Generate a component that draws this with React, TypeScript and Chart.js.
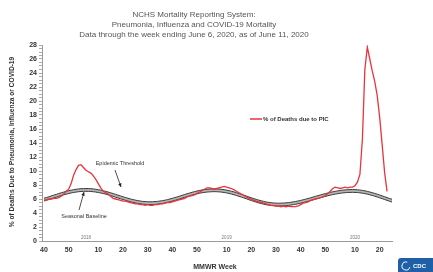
import React, { useEffect, useRef } from 'react';
import { Chart, registerables } from 'chart.js';

Chart.register(...registerables);

const titleLines = [
  'NCHS Mortality Reporting System:',
  'Pneumonia, Influenza and COVID-19 Mortality',
  'Data through the week ending June 6, 2020, as of June 11, 2020',
];
const yAxisTitle = '% of Deaths Due to Pneumonia, Influenza or COVID-19';
const xAxisTitle = 'MMWR Week';
const legendLabel = '% of Deaths due to PIC';

// MMWR weeks from 2017 week 40 (index 0) to 2020 week 25 (index 141)
const xTickIdx = [0, 10, 22, 32, 42, 52, 62, 74, 84, 94, 104, 114, 126, 136];
const xTickLabels = ['40', '50', '10', '20', '30', '40', '50', '10', '20', '30', '40', '50', '10', '20'];
const yearIdx = [17, 74, 126];
const yearLabels = ['2018', '2019', '2020'];

// % of deaths due to P&I / PIC, 2017 w40 .. 2020 w23
const pic = [
  5.8, 5.9, 6.0, 6.0, 6.1, 6.1, 6.2, 6.4, 6.7, 7.1,
  7.4, 8.2, 9.4, 10.2, 10.8, 10.9, 10.5, 10.1, 9.9, 9.7,
  9.3, 8.8, 8.2, 7.6, 7.1, 6.9, 6.7, 6.4, 6.1, 6.0,
  5.9, 5.8, 5.7, 5.7, 5.6, 5.5, 5.4, 5.3, 5.3, 5.2,
  5.2, 5.1, 5.2, 5.1, 5.1, 5.2, 5.2, 5.3, 5.3, 5.4,
  5.5, 5.5, 5.6, 5.7, 5.8, 5.9, 6.0, 6.1, 6.3, 6.4,
  6.5, 6.6, 6.8, 7.0, 7.2, 7.4, 7.6, 7.6, 7.5, 7.4,
  7.5, 7.6, 7.7, 7.8, 7.7, 7.6, 7.5, 7.3, 7.1, 6.9,
  6.7, 6.5, 6.3, 6.1, 6.0, 5.8, 5.7, 5.6, 5.5, 5.4,
  5.3, 5.2, 5.1, 5.1, 5.0, 5.0, 4.9, 5.0, 4.9, 5.0,
  4.9, 4.9, 4.9, 5.0, 5.2, 5.4, 5.5, 5.6, 5.8, 5.9,
  6.0, 6.1, 6.2, 6.3, 6.5, 6.8, 7.1, 7.5, 7.7, 7.6,
  7.5, 7.6, 7.7, 7.6, 7.7, 7.7, 7.9, 8.4, 9.5, 14.5,
  24.5, 27.7, 26.0, 24.3, 22.8, 20.8, 17.7, 13.8, 9.8, 7.1,
];

const baseline = [
  5.71, 5.81, 5.92, 6.04, 6.15, 6.26, 6.38, 6.49, 6.59, 6.69, 6.78, 6.86, 6.93, 6.99, 7.04, 7.07, 7.09, 7.10,
  7.09, 7.07, 7.04, 6.99, 6.93, 6.86, 6.78, 6.69, 6.59, 6.49, 6.38, 6.26, 6.15, 6.04, 5.92, 5.81, 5.71, 5.61,
  5.52, 5.44, 5.37, 5.31, 5.26, 5.23, 5.21, 5.20,
  5.21, 5.23, 5.26, 5.31, 5.36, 5.43, 5.51, 5.60, 5.70, 5.80, 5.90, 6.01, 6.13, 6.24, 6.35, 6.45, 6.56, 6.65,
  6.74, 6.82, 6.89, 6.94, 6.99, 7.02, 7.04, 7.05,
  7.04, 7.02, 6.98, 6.93, 6.87, 6.79, 6.70, 6.61, 6.50, 6.39, 6.27, 6.15, 6.03, 5.90, 5.78, 5.66, 5.55, 5.44,
  5.35, 5.26, 5.18, 5.12, 5.07, 5.03, 5.01, 5.00,
  5.01, 5.02, 5.05, 5.08, 5.13, 5.19, 5.25, 5.32, 5.40, 5.49, 5.58, 5.67, 5.77, 5.87, 5.98, 6.08, 6.18, 6.28,
  6.37, 6.46, 6.55, 6.63, 6.70, 6.76, 6.82, 6.87, 6.90, 6.93, 6.94, 6.95,
  6.94, 6.92, 6.88, 6.83, 6.77, 6.69, 6.60, 6.51, 6.40, 6.29, 6.17, 6.05, 5.93, 5.80, 5.68, 5.56,
];

const threshold = [
  6.11, 6.21, 6.32, 6.44, 6.55, 6.66, 6.78, 6.89, 6.99, 7.09, 7.18, 7.26, 7.33, 7.39, 7.44, 7.47, 7.49, 7.50,
  7.49, 7.47, 7.44, 7.39, 7.33, 7.26, 7.18, 7.09, 6.99, 6.89, 6.78, 6.66, 6.55, 6.44, 6.32, 6.21, 6.11, 6.01,
  5.92, 5.84, 5.77, 5.71, 5.66, 5.63, 5.61, 5.60,
  5.61, 5.63, 5.66, 5.71, 5.76, 5.83, 5.91, 6.00, 6.10, 6.20, 6.30, 6.41, 6.53, 6.64, 6.75, 6.85, 6.96, 7.05,
  7.14, 7.22, 7.29, 7.34, 7.39, 7.42, 7.44, 7.45,
  7.44, 7.42, 7.38, 7.33, 7.27, 7.19, 7.10, 7.01, 6.90, 6.79, 6.67, 6.55, 6.43, 6.30, 6.18, 6.06, 5.95, 5.84,
  5.75, 5.66, 5.58, 5.52, 5.47, 5.43, 5.41, 5.40,
  5.41, 5.42, 5.45, 5.48, 5.53, 5.59, 5.65, 5.72, 5.80, 5.89, 5.98, 6.07, 6.17, 6.27, 6.38, 6.48, 6.58, 6.68,
  6.77, 6.86, 6.95, 7.03, 7.10, 7.16, 7.22, 7.27, 7.30, 7.33, 7.34, 7.35,
  7.34, 7.32, 7.28, 7.23, 7.17, 7.09, 7.00, 6.91, 6.80, 6.69, 6.57, 6.45, 6.33, 6.20, 6.08, 5.96,
];

const FONT = '"Liberation Sans", Arial, sans-serif';

function arrow(ctx: CanvasRenderingContext2D, x1: number, y1: number, x2: number, y2: number) {
  ctx.beginPath();
  ctx.moveTo(x1, y1);
  ctx.lineTo(x2, y2);
  ctx.stroke();
  const a = Math.atan2(y2 - y1, x2 - x1);
  const l = 4;
  ctx.beginPath();
  ctx.moveTo(x2, y2);
  ctx.lineTo(x2 - l * Math.cos(a - 0.45), y2 - l * Math.sin(a - 0.45));
  ctx.lineTo(x2 - l * Math.cos(a + 0.45), y2 - l * Math.sin(a + 0.45));
  ctx.closePath();
  ctx.fill();
}

const textPlugin = {
  id: 'textPlugin',
  afterDraw(chart: any) {
    const ctx: CanvasRenderingContext2D = chart.ctx;
    const xs = chart.scales.x;
    ctx.save();
    // title
    ctx.fillStyle = '#555';
    ctx.font = `8px ${FONT}`;
    ctx.textAlign = 'center';
    ctx.textBaseline = 'middle';
    titleLines.forEach((t, i) => ctx.fillText(t, 194, 15 + i * 10));

    // y axis title
    ctx.save();
    ctx.translate(12, 142);
    ctx.rotate(-Math.PI / 2);
    ctx.fillStyle = '#333';
    ctx.font = `bold 6.6px ${FONT}`;
    ctx.fillText(yAxisTitle, 0, 0);
    ctx.restore();

    // x axis title
    ctx.fillStyle = '#333';
    ctx.font = `bold 7px ${FONT}`;
    ctx.fillText(xAxisTitle, 215, 267);

    // year labels
    ctx.fillStyle = '#777';
    ctx.font = `4.5px ${FONT}`;
    yearIdx.forEach((v, i) => ctx.fillText(yearLabels[i], xs.getPixelForValue(v), 237.5));

    // legend
    ctx.strokeStyle = '#e8343c';
    ctx.lineWidth = 1.5;
    ctx.beginPath();
    ctx.moveTo(250, 119);
    ctx.lineTo(262, 119);
    ctx.stroke();
    ctx.fillStyle = '#333';
    ctx.font = `bold 6px ${FONT}`;
    ctx.textAlign = 'left';
    ctx.fillText(legendLabel, 263, 119.5);

    // annotations
    ctx.textAlign = 'center';
    ctx.font = `5.5px ${FONT}`;
    ctx.fillStyle = '#333';
    ctx.fillText('Epidemic Threshold', 120, 163);
    ctx.fillText('Seasonal Baseline', 84, 216);
    ctx.strokeStyle = '#222';
    ctx.fillStyle = '#222';
    ctx.lineWidth = 0.8;
    arrow(ctx, 115, 170, 121, 187);
    arrow(ctx, 79, 210, 84, 192);

    // CDC logo
    ctx.fillStyle = '#1f5fa8';
    ctx.beginPath();
    const rx = 398, ry = 258, rw = 40, rh = 20, r = 3;
    ctx.moveTo(rx + r, ry);
    ctx.lineTo(rx + rw, ry);
    ctx.lineTo(rx + rw, ry + rh);
    ctx.lineTo(rx, ry + rh);
    ctx.lineTo(rx, ry + r);
    ctx.quadraticCurveTo(rx, ry, rx + r, ry);
    ctx.fill();
    ctx.strokeStyle = '#fff';
    ctx.lineWidth = 1;
    ctx.beginPath();
    ctx.arc(406, 266, 4, 0.3, Math.PI * 1.6);
    ctx.stroke();
    ctx.fillStyle = '#fff';
    ctx.font = `bold 6px ${FONT}`;
    ctx.textAlign = 'left';
    ctx.fillText('CDC', 413, 266);
    ctx.restore();
  },
};

export default function App() {
  const ref = useRef<HTMLCanvasElement>(null);
  useEffect(() => {
    document.body.style.margin = '0';
    const tickFont = { family: FONT, size: 7, weight: 'bold' as const };
    const chart = new Chart(ref.current!, {
      type: 'line',
      data: {
        datasets: [
          {
            label: legendLabel,
            data: pic.map((v, i) => ({ x: i, y: v })),
            borderColor: '#e8343c',
            borderWidth: 1.3,
            pointRadius: 0,
            fill: false,
            order: 0,
          },
          {
            label: 'Seasonal Baseline',
            data: baseline.map((v, i) => ({ x: i, y: v })),
            borderColor: '#3a3a3a',
            borderWidth: 1,
            pointRadius: 0,
            fill: false,
            order: 1,
          },
          {
            label: 'Epidemic Threshold',
            data: threshold.map((v, i) => ({ x: i, y: v })),
            borderColor: '#3a3a3a',
            borderWidth: 1,
            pointRadius: 0,
            fill: '-1',
            backgroundColor: '#b4b4b4',
            order: 1,
          },
        ],
      },
      options: {
        responsive: false,
        animation: false,
        events: [],
        layout: { padding: { top: 45, right: 41, left: 0, bottom: 0 } },
        plugins: { legend: { display: false }, tooltip: { enabled: false }, title: { display: false } },
        scales: {
          x: {
            type: 'linear',
            min: -0.8,
            max: 141,
            afterFit: (s: any) => { s.height = 31; },
            afterBuildTicks: (s: any) => { s.ticks = xTickIdx.map((v) => ({ value: v })); },
            ticks: {
              autoSkip: false,
              maxRotation: 0,
              padding: 5,
              font: tickFont,
              color: '#333',
              callback: (_v: any, i: number) => xTickLabels[i],
            },
            grid: { drawOnChartArea: false, drawTicks: false },
            border: { color: '#9a9a9a' },
          },
          y: {
            min: 0,
            max: 28,
            afterFit: (s: any) => { s.width = 42; },
            ticks: {
              stepSize: 0.5,
              autoSkip: false,
              padding: 2,
              font: tickFont,
              color: '#333',
              callback: (v: any) => (Number(v) % 2 === 0 ? String(v) : ''),
            },
            grid: { drawOnChartArea: false, tickLength: 3, color: '#aaa' },
            border: { color: '#9a9a9a' },
          },
        },
      },
      plugins: [textPlugin],
    });
    return () => chart.destroy();
  }, []);
  return (
    <div style={{ width: 433, height: 272, position: 'relative', overflow: 'hidden' }}>
      <canvas ref={ref} width={433} height={272} style={{ display: 'block' }} />
    </div>
  );
}
